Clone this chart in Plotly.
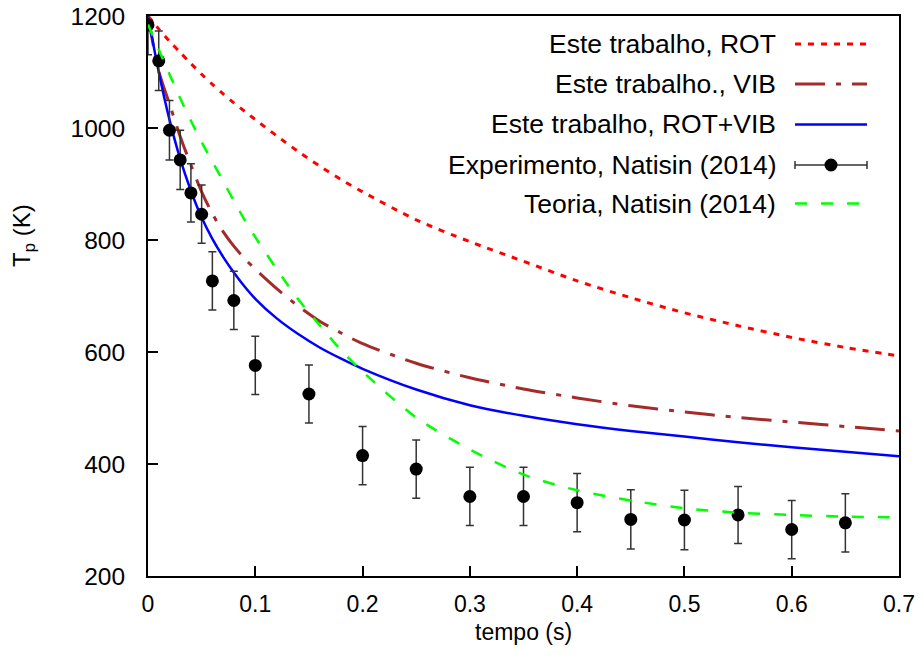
import plotly.graph_objects as go

# ---- data ----
t_grid = [0, 0.01, 0.02, 0.03, 0.04, 0.05, 0.06, 0.07, 0.08, 0.09, 0.10, 0.12, 0.14,
          0.16, 0.18, 0.20, 0.25, 0.30, 0.35, 0.40, 0.45, 0.50, 0.55, 0.60, 0.65, 0.70]
rot = [1200, 1177, 1155, 1135, 1115, 1096, 1078, 1061, 1045, 1030, 1015, 986, 958,
       932, 908, 886, 836, 797, 762, 727, 697, 670, 647, 626, 608, 593]
vib = [1200, 1102, 1043, 985, 934, 886, 847, 815, 789, 767, 748, 713, 682,
       655, 634, 615, 580, 554, 534, 518, 504, 493, 483, 475, 467, 459]
rotvib = [1200, 1100, 1015, 945, 888, 840, 802, 770, 742, 717, 695, 660, 632,
          608, 588, 570, 533, 505, 486, 471, 459, 449, 439, 430, 422, 414]
teoria = [1185, 1140, 1096, 1053, 1013, 975, 940, 905, 870, 836, 805, 748, 694,
          648, 603, 565, 483, 426, 381, 353, 335, 321, 313, 309, 306, 305]

t_exp = [0, 0.01, 0.02, 0.03, 0.04, 0.05, 0.06, 0.08, 0.10, 0.15, 0.20, 0.25,
         0.30, 0.35, 0.40, 0.45, 0.50, 0.55, 0.60, 0.65]
T_exp = [1184, 1120, 996, 943, 884, 846, 727, 692, 576, 525, 415, 391,
         342, 342, 331, 301, 300, 309, 283, 295]
err_exp = [53, 53, 53, 53, 52, 52, 52, 52, 52, 52, 52, 52,
           52, 52, 52, 53, 53, 51, 52, 52]

labels = ["Este trabalho, ROT", "Este trabalho., VIB", "Este trabalho, ROT+VIB",
          "Experimento, Natisin (2014)", "Teoria, Natisin (2014)"]
x_ticks = [0, 0.1, 0.2, 0.3, 0.4, 0.5, 0.6, 0.7]
x_ticklabels = ["0", "0.1", "0.2", "0.3", "0.4", "0.5", "0.6", "0.7"]
y_ticks = [200, 400, 600, 800, 1000, 1200]

RED = "#ff0000"
BROWN = "#a52a2a"
BLUE = "#0000ff"
GREEN = "#00ff00"
DASH_ROT = "6px,7px"
DASH_VIB = "30px,11px,5px,11px"
DASH_TEO = "12px,14px"

fig = go.Figure()
fig.add_trace(go.Scatter(x=t_grid, y=rot, mode="lines", name=labels[0],
                         line=dict(color=RED, width=3, dash=DASH_ROT, shape="spline", smoothing=0.8)))
fig.add_trace(go.Scatter(x=t_grid, y=vib, mode="lines", name=labels[1],
                         line=dict(color=BROWN, width=3, dash=DASH_VIB, shape="spline", smoothing=0.8)))
fig.add_trace(go.Scatter(x=t_grid, y=rotvib, mode="lines", name=labels[2],
                         line=dict(color=BLUE, width=2.5, shape="spline", smoothing=0.8)))
fig.add_trace(go.Scatter(x=t_exp, y=T_exp, mode="markers", name=labels[3],
                         marker=dict(color="black", size=13),
                         error_y=dict(type="data", array=err_exp, visible=True,
                                      color="#333333", thickness=1.5, width=4)))
fig.add_trace(go.Scatter(x=t_grid, y=teoria, mode="lines", name=labels[4],
                         line=dict(color=GREEN, width=2.5, dash=DASH_TEO, shape="spline", smoothing=0.8)))

# ---- layout geometry (pixels) ----
W, H = 923, 663
L, R, T, B = 148, 24, 16, 87
PW, PH = W - L - R, H - T - B


def px(xp):
    return (xp - L) / PW


def py(yp):
    return (H - B - yp) / PH


font_main = "Liberation Sans, Arial, sans-serif"

fig.update_layout(
    width=W, height=H,
    margin=dict(l=L, r=R, t=T, b=B, autoexpand=False),
    plot_bgcolor="white", paper_bgcolor="white",
    showlegend=False,
    font=dict(family=font_main, color="black"),
)
fig.update_xaxes(range=[0, 0.7], tickvals=x_ticks, ticktext=x_ticklabels,
                 ticks="inside", ticklen=10, tickwidth=1.5, tickcolor="black",
                 showline=True, linecolor="black", linewidth=2, mirror=True,
                 showgrid=False, zeroline=False, automargin=False,
                 tickfont=dict(family=font_main, size=23, color="black"),
                 ticklabelstandoff=6)
fig.update_yaxes(range=[200, 1200], tickvals=y_ticks,
                 ticks="inside", ticklen=10, tickwidth=1.5, tickcolor="black",
                 showline=True, linecolor="black", linewidth=2, mirror=True,
                 showgrid=False, zeroline=False, automargin=False,
                 tickfont=dict(family=font_main, size=24.5, color="black"),
                 ticklabelstandoff=16)

ann = []
ann.append(dict(text="tempo (s)", xref="paper", yref="paper", x=px(523), y=py(632),
                xanchor="center", yanchor="middle",
                showarrow=False, font=dict(family=font_main, size=23)))
ann.append(dict(text="T<sub>p</sub> (K)", xref="paper", yref="paper", x=px(23), y=py(235),
                xanchor="center", yanchor="middle",
                textangle=-90, showarrow=False, font=dict(family=font_main, size=24)))

rows_y = [44, 84, 124.5, 165, 203.5]
text_right = 778
s0, s1 = 795, 867
shapes = []
for lab, yy in zip(labels, rows_y):
    ann.append(dict(text=lab, xref="paper", yref="paper", x=px(text_right), y=py(yy),
                    xanchor="right", yanchor="middle", showarrow=False,
                    font=dict(family=font_main, size=26.5)))

styles = [(RED, DASH_ROT, 3), (BROWN, DASH_VIB, 3), (BLUE, "solid", 2.5)]
for (c, d, w), yy in zip(styles, rows_y[:3]):
    shapes.append(dict(type="line", xref="paper", yref="paper",
                       x0=px(s0), x1=px(s1), y0=py(yy), y1=py(yy),
                       line=dict(color=c, width=w, dash=d)))
# experiment sample
ye = rows_y[3]
shapes.append(dict(type="line", xref="paper", yref="paper", x0=px(s0), x1=px(s1),
                   y0=py(ye), y1=py(ye), line=dict(color="#333333", width=1.5)))
for xx in (s0, s1):
    shapes.append(dict(type="line", xref="paper", yref="paper", x0=px(xx), x1=px(xx),
                       y0=py(ye - 4), y1=py(ye + 4), line=dict(color="#333333", width=1.5)))
xc = (s0 + s1) / 2
shapes.append(dict(type="circle", xref="paper", yref="paper",
                   x0=px(xc - 6.5), x1=px(xc + 6.5), y0=py(ye + 6.5), y1=py(ye - 6.5),
                   fillcolor="black", line=dict(color="black", width=0)))
# teoria sample
shapes.append(dict(type="line", xref="paper", yref="paper", x0=px(s0), x1=px(s1),
                   y0=py(rows_y[4]), y1=py(rows_y[4]),
                   line=dict(color=GREEN, width=2.5, dash=DASH_TEO)))

fig.update_layout(annotations=ann, shapes=shapes)
fig.write_html("out.html")
